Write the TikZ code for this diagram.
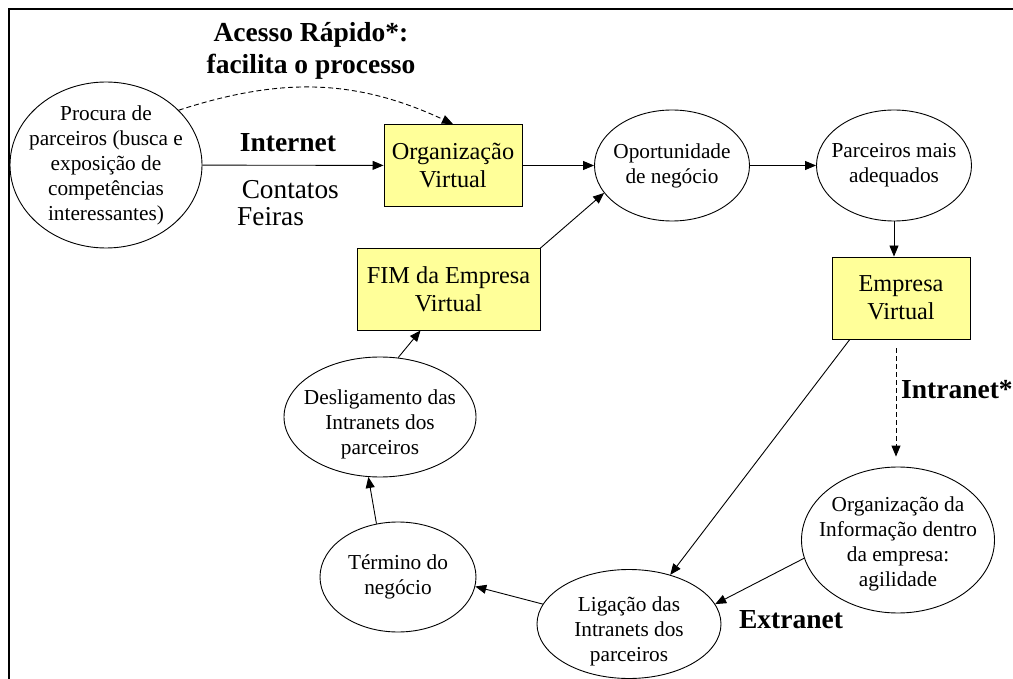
\documentclass[tikz,border=0pt]{standalone}
\usepackage{fontspec}
\setmainfont{Liberation Serif}
\usetikzlibrary{arrows.meta}
\usetikzlibrary{shapes.geometric}
\definecolor{amarelo}{RGB}{255,255,153}

\begin{document}
\begin{tikzpicture}[x=1pt,y=-1pt,
  elipse/.style={draw,ellipse,inner sep=0pt,line width=0.9pt},
  rotulo/.style={align=center,inner sep=0pt,font=\fontsize{21.3}{25}\selectfont},
  caixa/.style={draw,fill=amarelo,inner sep=0pt,align=center,line width=0.9pt,
    minimum height=82pt,font=\fontsize{24.3}{28}\selectfont},
  seta/.style={-{Triangle[length=11pt,width=9pt]},line width=0.9pt},
  tracejada/.style={seta,dash pattern=on 5pt off 3pt},
  destaque/.style={align=center,inner sep=0pt,font=\bfseries\fontsize{27.5}{32}\selectfont}]
\useasboundingbox (0,0) rectangle (1013,679);
\draw[line width=2.4pt] (1013,9) -- (8.8,9) -- (8.8,679);

\node[destaque] (acesso) at (311,51) {Acesso Rápido*:\\facilita o processo};
\node[elipse,minimum width=192pt,minimum height=166pt,
  label={[rotulo]center:Procura de\\parceiros (busca e\\exposição de\\competências\\interessantes)}] (procura) at (106,165) {};
\node[caixa,minimum width=138pt] (orgv) at (453,165.5) {Organização\\Virtual};
\node[elipse,minimum width=155pt,minimum height=111pt,
  label={[rotulo]center:Oportunidade\\de negócio}] (oport) at (672,165.5) {};
\node[elipse,minimum width=155pt,minimum height=111pt,
  label={[rotulo]center:Parceiros mais\\adequados}] (parc) at (894,165.5) {};
\node[caixa,minimum width=138pt] (empv) at (901,298) {Empresa\\Virtual};
\node[elipse,minimum width=193pt,minimum height=146pt,
  label={[rotulo,yshift=-4pt]center:Organização da\\Informação dentro\\da empresa:\\agilidade}] (orginfo) at (898,540) {};
\node[elipse,minimum width=184pt,minimum height=109pt,
  label={[rotulo,yshift=-7pt]center:Ligação das\\Intranets dos\\parceiros}] (lig) at (629,624) {};
\node[elipse,minimum width=156pt,minimum height=110pt,
  label={[rotulo]center:Término do\\negócio}] (term) at (398,577) {};
\node[elipse,minimum width=192pt,minimum height=120pt,
  label={[rotulo,yshift=-7pt]center:Desligamento das\\Intranets dos\\parceiros}] (desl) at (380,417) {};
\node[caixa,minimum width=183pt] (fim) at (448.5,289) {FIM da Empresa\\Virtual};

\node[destaque] (internet) at (288,143) {Internet};
\node[align=left,inner sep=0pt,anchor=west,font=\fontsize{27.3}{27}\selectfont] (meios) at (237,203.5) {\,Contatos\\Feiras};
\node[destaque,anchor=west] (intranet) at (901,390) {Intranet*};
\node[destaque] (extranet) at (791,620) {Extranet};

\draw[tracejada] (procura.37) to[out=18,in=155] (orgv.north);
\draw[seta] (procura) -- (orgv);
\draw[seta] (orgv) -- (oport);
\draw[seta] (oport) -- (parc);
\draw[seta] (parc) -- (parc |- empv.north);
\draw[tracejada,shorten <=9pt,shorten >=10pt] ([xshift=-5pt]empv.south) -- ([xshift=-5pt]empv.south |- orginfo.north);
\draw[seta] (empv.219) -- (lig.50);
\draw[seta] (orginfo.191) -- (lig.13);
\draw[seta] (lig.167) -- (term.353);
\draw[seta] (term.112) -- (desl.259);
\draw[seta] (desl.73) -- (fim.236);
\draw[seta] (fim.24) -- (oport.202);
\end{tikzpicture}
\end{document}
